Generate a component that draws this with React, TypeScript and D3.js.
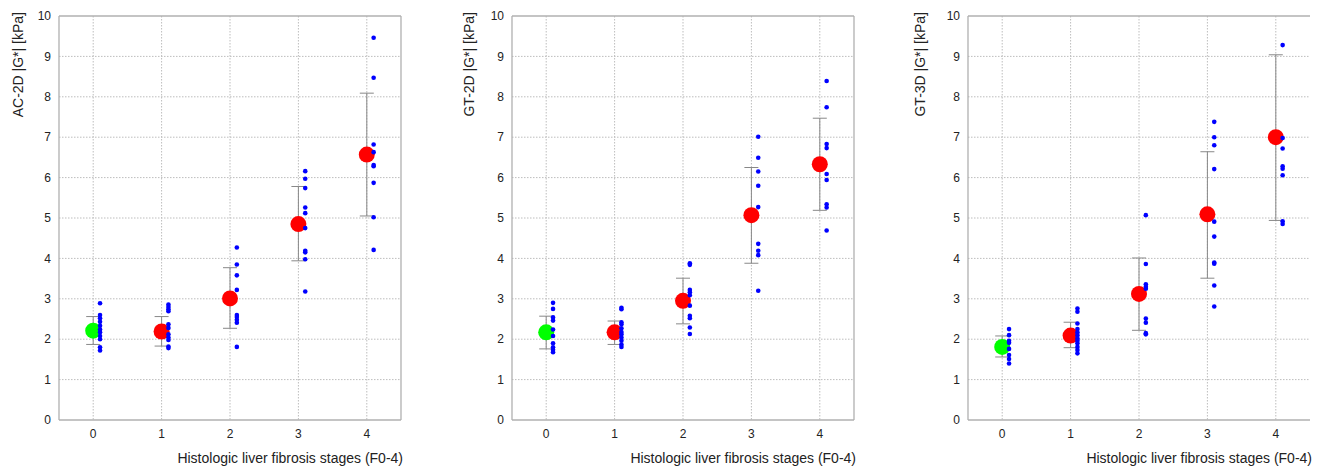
import React from "react";
import * as d3 from "d3";

const stages = [0, 1, 2, 3, 4];
const yTicks = [0, 1, 2, 3, 4, 5, 6, 7, 8, 9, 10];
const panelTitles = ["AC-2D |G*| [kPa]", "GT-2D |G*| [kPa]", "GT-3D |G*| [kPa]"];
const xTitle = "Histologic liver fibrosis stages (F0-4)";

// Means per stage
const acMeans = [2.21, 2.19, 3.01, 4.85, 6.57];
const gt2Means = [2.17, 2.17, 2.95, 5.07, 6.33];
const gt3Means = [1.81, 2.09, 3.12, 5.09, 7.0];

// Error bars (upper, lower)
const acUpper = [2.56, 2.56, 3.77, 5.78, 8.09];
const acLower = [1.87, 1.83, 2.27, 3.94, 5.05];
const gt2Upper = [2.57, 2.45, 3.51, 6.25, 7.47];
const gt2Lower = [1.76, 1.87, 2.38, 3.88, 5.19];
const gt3Upper = [2.08, 2.42, 4.01, 6.64, 9.04];
const gt3Lower = [1.56, 1.79, 2.22, 3.51, 4.94];

// Individual values per stage
const acPoints = [
  [2.89, 2.6, 2.52, 2.43, 2.33, 2.24, 2.17, 2.08, 2.0, 1.8, 1.72],
  [2.86, 2.8, 2.74, 2.69, 2.37, 2.28, 2.12, 2.04, 1.98, 1.82, 1.78],
  [4.27, 3.85, 3.58, 3.22, 2.6, 2.55, 2.48, 2.41, 1.81],
  [6.16, 5.97, 5.74, 5.26, 5.12, 4.75, 4.19, 4.15, 3.98, 3.18],
  [9.46, 8.47, 6.82, 6.63, 6.31, 6.28, 5.87, 5.02, 4.21],
];
const gt2Points = [
  [2.9, 2.75, 2.54, 2.46, 2.24, 2.08, 1.9, 1.8, 1.74, 1.68],
  [2.78, 2.74, 2.42, 2.37, 2.27, 2.18, 2.12, 2.04, 1.96, 1.87, 1.81],
  [3.88, 3.84, 3.22, 3.16, 3.09, 2.83, 2.58, 2.52, 2.29, 2.13],
  [7.01, 6.49, 6.15, 5.8, 5.27, 4.36, 4.19, 4.08, 3.2],
  [8.39, 7.74, 6.83, 6.73, 6.09, 5.94, 5.34, 5.26, 4.69],
];
const gt3Points = [
  [2.25, 2.1, 1.96, 1.91, 1.76, 1.61, 1.51, 1.4],
  [2.76, 2.68, 2.39, 2.25, 2.17, 2.1, 2.02, 1.96, 1.9, 1.81, 1.73, 1.65],
  [5.07, 3.86, 3.36, 3.3, 3.25, 2.51, 2.41, 2.15, 2.12],
  [7.38, 7.0, 6.8, 6.21, 4.91, 4.54, 3.9, 3.87, 3.33, 2.81],
  [9.28, 6.98, 6.72, 6.28, 6.22, 6.06, 4.92, 4.85],
];

const panels = [
  { title: panelTitles[0], means: acMeans, upper: acUpper, lower: acLower, points: acPoints, left: 59, labelX: 18, rightBorder: true },
  { title: panelTitles[1], means: gt2Means, upper: gt2Upper, lower: gt2Lower, points: gt2Points, left: 512, labelX: 469, rightBorder: true },
  { title: panelTitles[2], means: gt3Means, upper: gt3Upper, lower: gt3Lower, points: gt3Points, left: 968, labelX: 920, rightBorder: false },
];

const W = 1323;
const H = 469;
const PW = 342;
const TOP = 16;
const BOTTOM = 420;
const FONT = "'Liberation Sans', Arial, sans-serif";

function Panel({ p }: { p: (typeof panels)[number] }) {
  const x = d3.scaleLinear().domain([-0.5, 4.5]).range([p.left, p.left + PW]);
  const y = d3.scaleLinear().domain([0, 10]).range([BOTTOM, TOP]);
  const gridColor = "#bdbdbd";
  const borderColor = "#b0b0b0";
  return (
    <g>
      {yTicks.filter((t) => t > 0 && t < 10).map((t) => (
        <line key={"gy" + t} x1={p.left} x2={p.left + PW} y1={y(t)} y2={y(t)} stroke={gridColor} strokeWidth={1} strokeDasharray="1.5,1.5" />
      ))}
      {stages.map((s) => (
        <line key={"gx" + s} x1={x(s)} x2={x(s)} y1={TOP} y2={BOTTOM} stroke={gridColor} strokeWidth={1} strokeDasharray="1.5,1.5" />
      ))}
      <line x1={p.left} x2={p.left + PW} y1={TOP} y2={TOP} stroke={borderColor} strokeWidth={1.3} />
      <line x1={p.left} x2={p.left + PW} y1={BOTTOM} y2={BOTTOM} stroke={borderColor} strokeWidth={1.3} />
      <line x1={p.left} x2={p.left} y1={TOP} y2={BOTTOM} stroke={borderColor} strokeWidth={1.3} />
      {p.rightBorder && <line x1={p.left + PW} x2={p.left + PW} y1={TOP} y2={BOTTOM} stroke={borderColor} strokeWidth={1.3} />}
      {yTicks.map((t) => (
        <text key={"ty" + t} x={p.left - 8} y={y(t)} dy="0.35em" textAnchor="end" fontSize={12} fontFamily={FONT} fill="#222">
          {t}
        </text>
      ))}
      {stages.map((s) => (
        <text key={"tx" + s} x={x(s)} y={BOTTOM + 14} dy="0.35em" textAnchor="middle" fontSize={12} fontFamily={FONT} fill="#222">
          {s}
        </text>
      ))}
      <text x={p.left + PW + 2} y={463} textAnchor="end" fontSize={14} fontFamily={FONT} fill="#222">
        {xTitle}
      </text>
      <text transform={`translate(${p.labelX},12) rotate(-90)`} dy="0.35em" textAnchor="end" fontSize={14} fontFamily={FONT} fill="#222">
        {p.title}
      </text>
      {stages.map((s, i) => (
        <g key={"eb" + s}>
          <line x1={x(s)} x2={x(s)} y1={y(p.upper[i])} y2={y(p.lower[i])} stroke="#888" strokeWidth={1} />
          <line x1={x(s) - 7} x2={x(s) + 7} y1={y(p.upper[i])} y2={y(p.upper[i])} stroke="#888" strokeWidth={1} />
          <line x1={x(s) - 7} x2={x(s) + 7} y1={y(p.lower[i])} y2={y(p.lower[i])} stroke="#888" strokeWidth={1} />
        </g>
      ))}
      {stages.map((s, i) => (
        <circle key={"m" + s} cx={x(s)} cy={y(p.means[i])} r={8} fill={i === 0 ? "#00ff00" : "#ff0000"} />
      ))}
      {stages.map((s, i) =>
        p.points[i].map((v, j) => (
          <circle key={"p" + s + "-" + j} cx={x(s + 0.1)} cy={y(v)} r={2.3} fill="#0000ff" />
        ))
      )}
    </g>
  );
}

export default function App() {
  return (
    <svg width={W} height={H} style={{ position: "absolute", left: 0, top: 0, background: "#fff" }}>
      <rect width={W} height={H} fill="#fff" />
      {panels.map((p, i) => (
        <Panel key={i} p={p} />
      ))}
    </svg>
  );
}
